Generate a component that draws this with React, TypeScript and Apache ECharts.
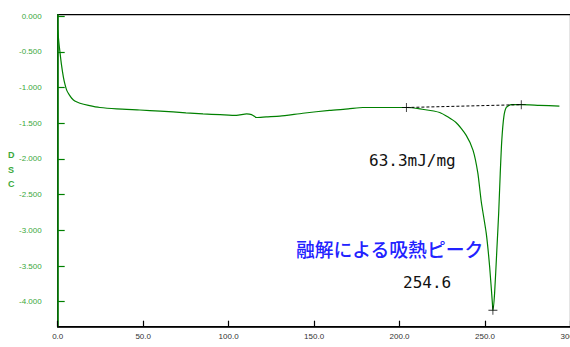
import React, { useEffect, useRef } from "react";
import * as echarts from "echarts";

const temps = [0, 0.6, 1.3, 2.2, 3.3, 4.3, 5.3, 6.7, 8.2, 10, 13, 18, 24.7, 34.5, 48, 60, 75, 85, 95, 104.6, 110.5, 113.4, 116.3, 122, 130, 143.4, 159, 170, 178.6, 192, 204, 212, 223.5, 233, 239, 243, 245.8, 247.8, 250.7, 252.7, 254.3, 254.6, 255.6, 256.9, 258, 258.9, 259.8, 261, 262.4, 265.3, 271.2, 281.8, 293.5];
const dsc = [-0.19, -0.35, -0.5, -0.68, -0.85, -0.96, -1.04, -1.1, -1.15, -1.19, -1.22, -1.25, -1.28, -1.3, -1.315, -1.33, -1.355, -1.37, -1.38, -1.39, -1.37, -1.38, -1.42, -1.41, -1.4, -1.36, -1.32, -1.3, -1.28, -1.28, -1.28, -1.3, -1.35, -1.49, -1.67, -1.88, -2.2, -2.6, -3.04, -3.51, -4.02, -4.12, -3.88, -3.28, -2.75, -2.2, -1.74, -1.41, -1.28, -1.24, -1.24, -1.25, -1.26];

const baselineTemps = [204, 271.2];
const baselineDsc = [-1.28, -1.24];
const markerTemps = [204, 271.2, 254.6];
const markerDsc = [-1.28, -1.24, -4.12];

const yTicks = [0, -0.5, -1, -1.5, -2, -2.5, -3, -3.5, -4];
const xTicks = [0, 50, 100, 150, 200, 250, 300];

const enthalpyText = "63.3mJ/mg";
const peakText = "254.6";
const peakTitle = "融解による吸熱ピーク";

const PLUS = "path://M4.5,0h1v4.5h4.5v1h-4.5v4.5h-1v-4.5h-4.5v-1h4.5z";

export default function App() {
  const ref = useRef<HTMLDivElement>(null);
  useEffect(() => {
    document.body.style.margin = "0";
    const chart = echarts.init(ref.current!, null, { renderer: "svg" });
    const green = "#008000";
    chart.setOption({
      animation: false,
      backgroundColor: "#fff",
      grid: {
        left: 57.7,
        right: -0.5,
        top: 14.7,
        bottom: 20.3,
        show: true,
        borderColor: "#000",
        borderWidth: 1.2,
        outerBoundsMode: "none",
        containLabel: false,
      },
      xAxis: {
        type: "value",
        min: 0,
        max: 300,
        name: "Temp Cel",
        nameLocation: "middle",
        nameGap: 17,
        nameTextStyle: { fontSize: 8, color: "#333", fontFamily: "Liberation Sans" },
        axisLine: { onZero: false, lineStyle: { color: "#000", width: 1.6 } },
        axisTick: { inside: true, length: 6, lineStyle: { color: "#000", width: 1.2 }, customValues: xTicks },
        axisLabel: {
          customValues: xTicks,
          formatter: (v: number) => v.toFixed(1),
          fontSize: 8,
          color: "#333",
          fontFamily: "Liberation Sans",
          margin: 6,
          showMaxLabel: true,
          hideOverlap: false,
        },
        splitLine: { show: false },
      },
      yAxis: {
        type: "value",
        min: -4.35,
        max: 0.02,
        axisLine: { show: true, onZero: false, lineStyle: { color: green, width: 1.5 } },
        axisTick: { show: true, inside: true, length: 7, lineStyle: { color: green, width: 1.2 }, customValues: yTicks },
        axisLabel: {
          customValues: yTicks,
          formatter: (v: number) => v.toFixed(3),
          fontSize: 8,
          color: "#3aa83a",
          fontFamily: "Liberation Sans",
          margin: 16,
          padding: [6, 0, 0, 0],
        },
        splitLine: { show: false },
      },
      graphic: [
        {
          type: "text",
          left: 8,
          top: 148,
          style: { text: "D\nS\nC", fontSize: 9, lineHeight: 14.5, fill: "#3aa83a", fontFamily: "Liberation Sans", fontWeight: "bold" },
        },
        {
          type: "text",
          x: 369,
          y: 160,
          style: { text: enthalpyText, fontSize: 16, fill: "#111", fontFamily: "DejaVu Sans Mono", verticalAlign: "middle" },
        },
        {
          type: "text",
          x: 296,
          y: 248,
          style: { text: peakTitle, fontSize: 18.8, fill: "#2222ff", fontFamily: "Noto Sans CJK JP", fontWeight: 500, verticalAlign: "middle" },
        },
        {
          type: "text",
          x: 403,
          y: 282,
          style: { text: peakText, fontSize: 16, fill: "#111", fontFamily: "DejaVu Sans Mono", verticalAlign: "middle" },
        },
      ],
      series: [
        {
          type: "line",
          data: temps.map((t, i) => [t, dsc[i]]),
          showSymbol: false,
          smooth: 0.2,
          lineStyle: { color: green, width: 1.2 },
          z: 3,
        },
        {
          type: "line",
          data: baselineTemps.map((t, i) => [t, baselineDsc[i]]),
          showSymbol: false,
          lineStyle: { color: "#000", width: 1, type: [3, 2] },
          z: 4,
        },
        {
          type: "scatter",
          data: markerTemps.map((t, i) => [t, markerDsc[i]]),
          symbol: PLUS,
          symbolSize: 9,
          itemStyle: { color: "#000" },
          z: 5,
        },
      ],
    });
    return () => chart.dispose();
  }, []);
  return <div ref={ref} style={{ width: 570, height: 347 }} />;
}
